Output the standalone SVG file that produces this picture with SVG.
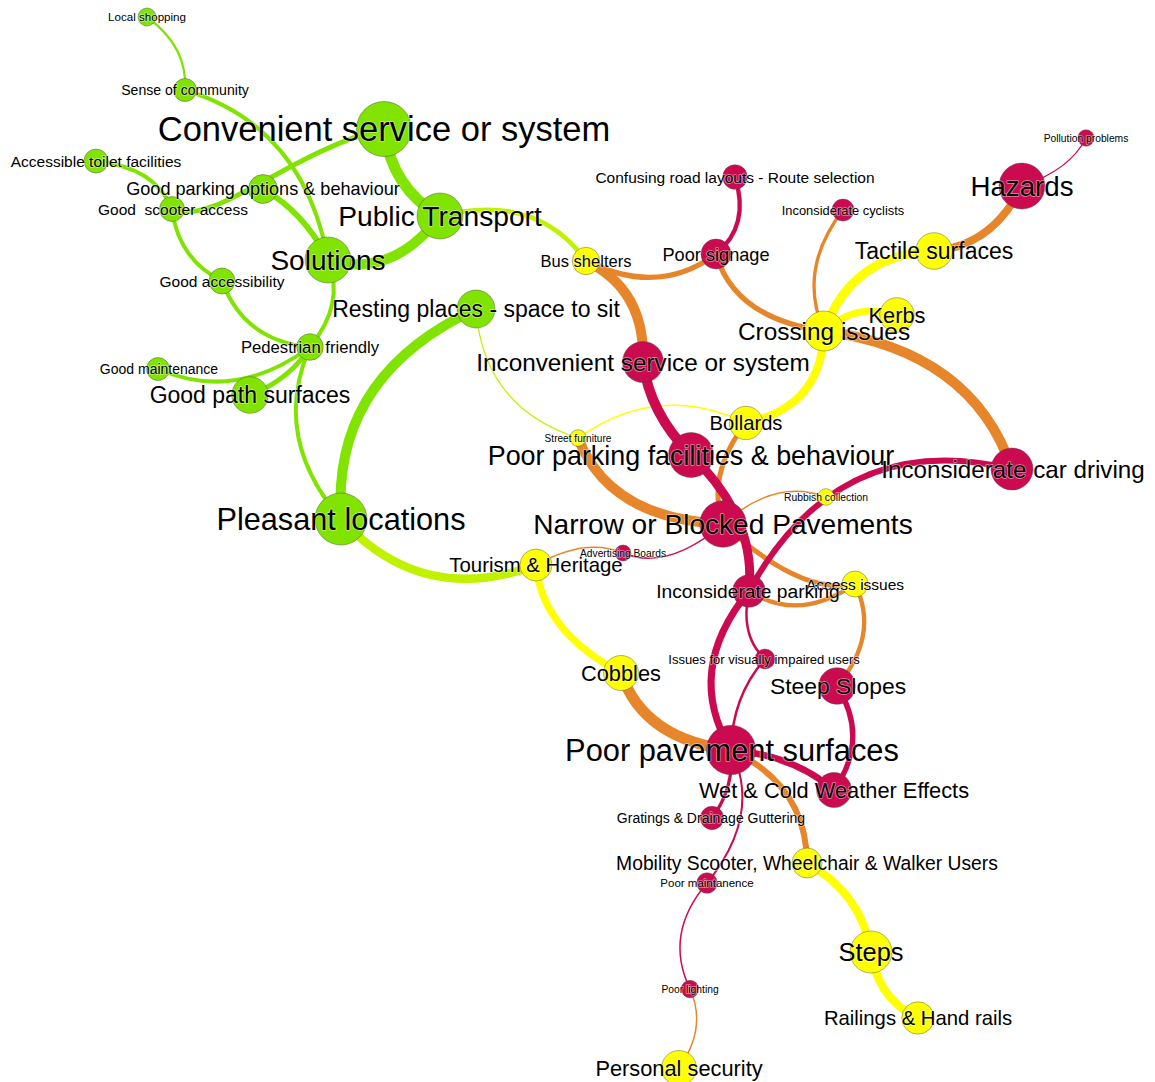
<svg xmlns="http://www.w3.org/2000/svg" width="1155" height="1082" viewBox="0 0 1155 1082">
<style>
.e{fill:none}
.g{stroke:#80e400}
.y{stroke:#ffff00}
.r{stroke:#cc0a50}
.o{stroke:#e6852a}
.yg{stroke:#c0f200}
circle{stroke:#444;stroke-width:0.7;stroke-opacity:0.6}
.ng{fill:#80e400}
.ny{fill:#ffff00}
.nr{fill:#cc0a50}
text{font-family:"Liberation Sans",Arial,sans-serif;fill:#000;text-anchor:middle;stroke:#fff;stroke-opacity:0.5;stroke-width:1.6;paint-order:stroke;stroke-linejoin:round}
</style>
<rect width="1155" height="1082" fill="#fff"/>
<g id="edges">
<path class="e g" stroke-width="2.2" d="M147 17 Q188 47 185 90"/>
<path class="e g" stroke-width="4" d="M185 90 Q304 126 328 260"/>
<path class="e g" stroke-width="5" d="M172 209 C215 228 290 150 384 129"/>
<path class="e g" stroke-width="4" d="M96 161 Q155.5 167.5 172 209"/>
<path class="e g" stroke-width="6" d="M263 189 Q305 213 328 260"/>
<path class="e g" stroke-width="4" d="M172 209 Q178.5 259.5 222 281"/>
<path class="e g" stroke-width="4" d="M222 281 Q244 341 310 347"/>
<path class="e g" stroke-width="4" d="M328 260 Q345.5 303.5 310 347"/>
<path class="e g" stroke-width="4" d="M158 369 Q235.5 402.5 310 347"/>
<path class="e g" stroke-width="5" d="M250 395 Q289.5 380 310 347"/>
<path class="e g" stroke-width="4" d="M310 347 Q270.5 437 341 519"/>
<path class="e g" stroke-width="10" d="M341 519 Q331.5 376 476 309"/>
<path class="e yg" stroke-width="8.5" d="M341 519 Q422 607.5 536 565"/>
<path class="e g" stroke-width="10" d="M328 260 Q392.5 279 440 216"/>
<path class="e g" stroke-width="11" d="M384 129 Q391.5 188.5 440 216"/>
<path class="e yg" stroke-width="4.7" d="M440 216 Q537 192 586 261"/>
<path class="e yg" stroke-width="1.3" d="M476 309 Q483 407 578 438"/>
<path class="e o" stroke-width="10" d="M586 261 Q645.5 289.5 643 362"/>
<path class="e o" stroke-width="5.3" d="M586 261 Q659 297 716 254"/>
<path class="e o" stroke-width="5.3" d="M716 254 Q734.5 318.5 824 331"/>
<path class="e o" stroke-width="3.3" d="M843 210 Q797 270 824 331"/>
<path class="e o" stroke-width="8" d="M1022 186 Q992.5 246 934 251"/>
<path class="e o" stroke-width="10" d="M824 331 Q972 351 1012 469"/>
<path class="e y" stroke-width="9" d="M824 331 Q852 254 934 251"/>
<path class="e y" stroke-width="7" d="M824 331 Q856.5 302 897 315"/>
<path class="e y" stroke-width="8" d="M824 331 Q822 407 746 423"/>
<path class="e y" stroke-width="1.5" d="M578 438 Q658.5 381 746 423"/>
<path class="e o" stroke-width="10" d="M578 438 Q609.5 519 723 524"/>
<path class="e o" stroke-width="5" d="M746 423 Q706 474 723 524"/>
<path class="e o" stroke-width="1.5" d="M826 497 Q776 477.5 723 524"/>
<path class="e o" stroke-width="5" d="M723 524 Q801.5 596 855 584"/>
<path class="e o" stroke-width="4.3" d="M749 591 Q798.5 623 855 584"/>
<path class="e o" stroke-width="4.3" d="M855 584 Q880 635.5 837 686"/>
<path class="e y" stroke-width="7.3" d="M536 565 Q542 631 621 673"/>
<path class="e o" stroke-width="1.5" d="M536 565 Q585.5 537 623 553"/>
<path class="e o" stroke-width="11" d="M621 673 Q643.5 739.5 731 750"/>
<path class="e o" stroke-width="6" d="M731 750 Q806.5 785 807 863"/>
<path class="e y" stroke-width="8.3" d="M807 863 Q861.5 893.5 871 952"/>
<path class="e y" stroke-width="8.3" d="M871 952 Q878 999.5 918 1018"/>
<path class="e o" stroke-width="1.5" d="M690 989 Q707.5 1028 679 1068"/>
<path class="e r" stroke-width="4.3" d="M735 177 Q750.5 225.5 716 254"/>
<path class="e r" stroke-width="1.2" d="M1086 138 Q1070 170 1022 186"/>
<path class="e r" stroke-width="10" d="M643 362 Q649.5 413 691 455"/>
<path class="e r" stroke-width="9" d="M691 455 Q756.5 518 749 591"/>
<path class="e r" stroke-width="1.5" d="M623 553 Q667.5 571.5 723 524"/>
<path class="e r" stroke-width="6" d="M1012 469 Q839 427 749 591"/>
<path class="e r" stroke-width="7" d="M749 591 Q683.5 671 731 750"/>
<path class="e r" stroke-width="2.5" d="M749 591 Q739.5 635.5 765 659"/>
<path class="e r" stroke-width="2.5" d="M765 659 Q732 696.5 731 750"/>
<path class="e r" stroke-width="5.3" d="M837 686 Q870 738.5 834 790"/>
<path class="e r" stroke-width="6.7" d="M731 750 Q793 755 834 790"/>
<path class="e r" stroke-width="3.3" d="M731 750 Q734.5 787.5 712 818"/>
<path class="e r" stroke-width="2" d="M731 750 Q762.5 814.5 707 883"/>
<path class="e r" stroke-width="1.5" d="M707 883 Q663.5 934 690 989"/>
</g>
<g id="nodes">
<g id="n-local-shopping"><circle class="ng" cx="147" cy="17" r="9"/><text x="147" y="21.1" font-size="11.6">Local shopping</text></g>
<g id="n-sense-of-community"><circle class="ng" cx="185" cy="90" r="11.5"/><text x="185" y="95" font-size="14.1">Sense of community</text></g>
<g id="n-convenient-service"><circle class="ng" cx="384" cy="129" r="27.5"/><text x="384" y="141.2" font-size="34.5">Convenient service or system</text></g>
<g id="n-accessible-toilet"><circle class="ng" cx="96" cy="161" r="12"/><text x="96" y="166.5" font-size="15.5">Accessible toilet facilities</text></g>
<g id="n-good-scooter"><circle class="ng" cx="172" cy="209" r="12.5"/><text x="173" y="214.5" font-size="15.5" xml:space="preserve">Good  scooter access</text></g>
<g id="n-good-parking-options"><circle class="ng" cx="263" cy="189" r="14.5"/><text x="263" y="195.4" font-size="18.1">Good parking options &amp; behaviour</text></g>
<g id="n-public-transport"><circle class="ng" cx="440" cy="216" r="23"/><text x="440" y="226" font-size="28.2">Public Transport</text></g>
<g id="n-solutions"><circle class="ng" cx="328" cy="260" r="23"/><text x="328" y="270" font-size="28">Solutions</text></g>
<g id="n-good-accessibility"><circle class="ng" cx="222" cy="281" r="13"/><text x="222" y="286.5" font-size="15.5">Good accessibility</text></g>
<g id="n-resting-places"><circle class="ng" cx="476" cy="309" r="19"/><text x="476" y="317.2" font-size="23">Resting places - space to sit</text></g>
<g id="n-pedestrian-friendly"><circle class="ng" cx="310" cy="347" r="13.3"/><text x="310" y="352.9" font-size="16.7">Pedestrian friendly</text></g>
<g id="n-good-maintenance"><circle class="ng" cx="158" cy="369" r="11.5"/><text x="159" y="374" font-size="14">Good maintenance</text></g>
<g id="n-good-path-surfaces"><circle class="ng" cx="250" cy="395" r="18.3"/><text x="250" y="403.2" font-size="23">Good path surfaces</text></g>
<g id="n-pleasant-locations"><circle class="ng" cx="341" cy="519" r="26"/><text x="341" y="529.9" font-size="30.7">Pleasant locations</text></g>
<g id="n-bus-shelters"><circle class="ny" cx="586" cy="261" r="13.7"/><text x="586" y="266.9" font-size="16.5">Bus shelters</text></g>
<g id="n-confusing-road"><circle class="nr" cx="735" cy="177" r="12.3"/><text x="735" y="182.5" font-size="15.5">Confusing road layouts - Route selection</text></g>
<g id="n-poor-signage"><circle class="nr" cx="716" cy="254" r="15"/><text x="716" y="260.5" font-size="18.2">Poor signage</text></g>
<g id="n-inconsiderate-cyclists"><circle class="nr" cx="843" cy="210" r="11"/><text x="843" y="214.6" font-size="12.9">Inconsiderate cyclists</text></g>
<g id="n-pollution"><circle class="nr" cx="1086" cy="138" r="8.2"/><text x="1086" y="141.7" font-size="10.3">Pollution problems</text></g>
<g id="n-hazards"><circle class="nr" cx="1022" cy="186" r="23"/><text x="1022" y="195.8" font-size="27.7">Hazards</text></g>
<g id="n-tactile"><circle class="ny" cx="934" cy="251" r="18.3"/><text x="934" y="259.2" font-size="23">Tactile surfaces</text></g>
<g id="n-kerbs"><circle class="ny" cx="897" cy="315" r="17.3"/><text x="897" y="322.7" font-size="21.8">Kerbs</text></g>
<g id="n-crossing"><circle class="ny" cx="824" cy="331" r="20"/><text x="824" y="339.7" font-size="24.4">Crossing issues</text></g>
<g id="n-inconvenient"><circle class="nr" cx="643" cy="362" r="20.5"/><text x="643" y="370.6" font-size="24.3">Inconvenient service or system</text></g>
<g id="n-bollards"><circle class="ny" cx="746" cy="423" r="16.7"/><text x="746" y="430.2" font-size="20.2">Bollards</text></g>
<g id="n-street-furniture"><circle class="ny" cx="578" cy="438" r="8.3"/><text x="578" y="441.6" font-size="10.1">Street furniture</text></g>
<g id="n-poor-parking"><circle class="nr" cx="691" cy="455" r="22.5"/><text x="691" y="464.5" font-size="26.9">Poor parking facilities &amp; behaviour</text></g>
<g id="n-car-driving"><circle class="nr" cx="1012" cy="469" r="21"/><text x="1013" y="477.6" font-size="24.2">Inconsiderate car driving</text></g>
<g id="n-rubbish"><circle class="ny" cx="826" cy="497" r="8.3"/><text x="826" y="500.7" font-size="10.35">Rubbish collection</text></g>
<g id="n-narrow"><circle class="nr" cx="723" cy="524" r="23.3"/><text x="723" y="534" font-size="28.1">Narrow or Blocked Pavements</text></g>
<g id="n-advertising"><circle class="nr" cx="623" cy="553" r="8"/><text x="623" y="556.6" font-size="10.25">Advertising Boards</text></g>
<g id="n-tourism"><circle class="ny" cx="536" cy="565" r="16"/><text x="536" y="572.2" font-size="20.4">Tourism &amp; Heritage</text></g>
<g id="n-access-issues"><circle class="ny" cx="855" cy="584" r="13"/><text x="855" y="589.5" font-size="15.5">Access issues</text></g>
<g id="n-inconsiderate-parking"><circle class="nr" cx="749" cy="591" r="16.3"/><text x="748" y="597.8" font-size="19.2">Inconsiderate parking</text></g>
<g id="n-visually-impaired"><circle class="nr" cx="765" cy="659" r="10"/><text x="764" y="663.6" font-size="13">Issues for visually impaired users</text></g>
<g id="n-cobbles"><circle class="ny" cx="621" cy="673" r="17.5"/><text x="621" y="680.7" font-size="21.8">Cobbles</text></g>
<g id="n-steep-slopes"><circle class="nr" cx="837" cy="686" r="18.3"/><text x="838" y="694.1" font-size="22.9">Steep Slopes</text></g>
<g id="n-poor-pavement"><circle class="nr" cx="731" cy="750" r="24.7"/><text x="732" y="760.9" font-size="30.8">Poor pavement surfaces</text></g>
<g id="n-wet-cold"><circle class="nr" cx="834" cy="790" r="17.5"/><text x="834" y="797.7" font-size="21.8">Wet &amp; Cold Weather Effects</text></g>
<g id="n-gratings"><circle class="nr" cx="712" cy="818" r="11.7"/><text x="711" y="823" font-size="14">Gratings &amp; Drainage Guttering</text></g>
<g id="n-poor-maintanence"><circle class="nr" cx="707" cy="883" r="10.3"/><text x="707" y="887.1" font-size="11.5">Poor maintanence</text></g>
<g id="n-mobility"><circle class="ny" cx="807" cy="863" r="15"/><text x="807" y="869.9" font-size="19.3">Mobility Scooter, Wheelchair &amp; Walker Users</text></g>
<g id="n-steps"><circle class="ny" cx="871" cy="952" r="21"/><text x="871" y="961" font-size="25.4">Steps</text></g>
<g id="n-poor-lighting"><circle class="nr" cx="690" cy="989" r="8.7"/><text x="690" y="992.7" font-size="10.3">Poor lighting</text></g>
<g id="n-railings"><circle class="ny" cx="918" cy="1018" r="16.2"/><text x="918" y="1025.2" font-size="20.3">Railings &amp; Hand rails</text></g>
<g id="n-personal-security"><circle class="ny" cx="679" cy="1068" r="17.5"/><text x="679" y="1075.7" font-size="21.8">Personal security</text></g>
</g>
</svg>
